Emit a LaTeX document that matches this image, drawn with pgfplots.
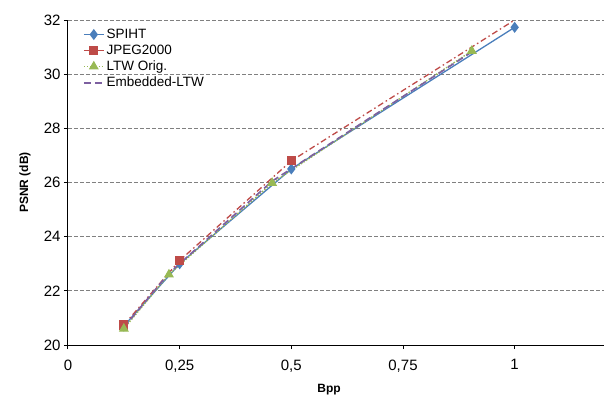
\documentclass[border=0pt]{standalone}
\usepackage{pgfplots}
\pgfplotsset{compat=1.18}
\usepackage{fontspec}
\setmainfont{Liberation Sans}
\definecolor{cB}{RGB}{74,126,187}
\definecolor{cR}{RGB}{190,75,72}
\definecolor{cG}{RGB}{152,185,84}
\definecolor{cP}{RGB}{125,96,160}
\begin{document}
\begin{tikzpicture}
\begin{axis}[name=ax, scale only axis, width=536pt, height=325pt,
  xmin=0, xmax=1.2, ymin=20, ymax=32,
  axis x line*=bottom, axis y line*=left,
  axis line style={black, line width=1pt, -},
  xtick={0,0.25,0.5,0.75,1}, xticklabels={0,{0,25},{0,5},{0,75},1},
  ytick={20,22,...,32},
  ymajorgrids, grid style={dash pattern=on 4pt off 2pt, gray, line width=0.8pt},
  tick align=outside, major tick length=4pt, tick style={black, line width=1pt},
  ticklabel style={font=\fontsize{15}{18}\selectfont},
  xticklabel style={yshift=-7pt},
  /pgf/number format/assume math mode=true,
  xlabel={\textbf{Bpp}}, ylabel={\textbf{PSNR (dB)}},
  xlabel style={font=\fontsize{12}{14}\selectfont, at={(axis description cs:0.487,-0.138)}, anchor=center},
  ylabel style={font=\fontsize{12}{14}\selectfont, at={(axis description cs:-0.08,0.5)}, anchor=center, rotate=0},
  legend style={draw=none, fill=none, font=\fontsize{13.5}{16}\selectfont, at={(axis description cs:0.022,0.985)}, anchor=north west, row sep=1pt},
  legend cell align=left,
  legend image code/.code={\draw[mark repeat=2,mark phase=2,#1] plot coordinates {(0pt,0pt) (10pt,0pt) (20pt,0pt)};},
  clip=true,
]
\addplot[cB, line width=1.3pt, mark=diamond*, mark size=4.5pt, mark options={solid}] coordinates {(0.125,20.7) (0.25,23.0) (0.5,26.5) (1,31.73)};
\addlegendentry{SPIHT}
\addlegendimage{cR, line width=1.3pt, mark=square*, mark size=4pt, mark options={solid}}
\addlegendentry{JPEG2000}
\addplot[forget plot, cR, line width=1.3pt, dash pattern=on 6pt off 3pt on 1.5pt off 3pt, mark=square*, mark size=4pt, mark options={solid}, mark indices={1,2,3}] coordinates {(0.125,20.74) (0.25,23.12) (0.5,26.8) (1,32.0)};
\addplot[cG, line width=1.3pt, dash pattern=on 1.5pt off 1.5pt, mark=triangle*, mark size=4.5pt, mark options={solid}] coordinates {(0.125,20.6) (0.226,22.6) (0.457,25.98) (0.904,30.86)};
\addlegendentry{LTW Orig.}
\addplot[cP, line width=1.6pt, dash pattern=on 7pt off 4pt] coordinates {(0.125,20.65) (0.226,22.65) (0.457,26.05) (0.904,30.82)};
\addlegendentry{Embedded-LTW}
\end{axis}
\path (ax.south west) ++(-68pt,-53pt) coordinate (bl);
\path (ax.north east) ++(4pt,20pt) coordinate (tr);
\path (bl) rectangle (tr);
\end{tikzpicture}
\end{document}
